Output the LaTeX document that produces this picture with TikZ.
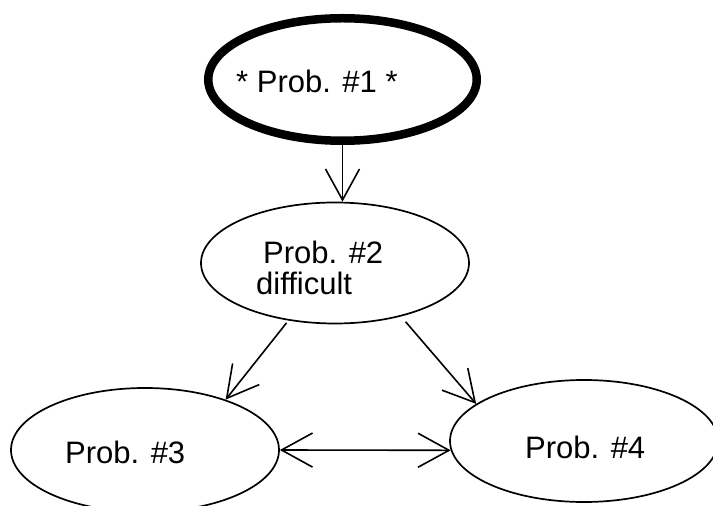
\documentclass[tikz,border=0pt]{standalone}
\usepackage{fontspec}
\setmainfont{Liberation Sans}
\usetikzlibrary{shapes.geometric,arrows.meta}
\begin{document}
\begin{tikzpicture}[x=1pt,y=1pt,
  ell/.style={draw,ellipse,inner sep=0pt,line width=1.7pt},
  bigell/.style={draw,ellipse,inner sep=0pt,line width=8.5pt},
  txt/.style={anchor=base west,inner sep=0pt,font=\fontsize{31}{37}\selectfont},
  arr/.style={line width=1.6pt,-{Straight Barb[length=31pt,width=34pt,line width=1.6pt]}},
  darr/.style={line width=1.6pt,{Straight Barb[length=31pt,width=34pt,line width=1.6pt]}-{Straight Barb[length=31pt,width=34pt,line width=1.6pt]}}]
\useasboundingbox (0,0) rectangle (713,506);
\node[bigell,minimum width=268.5pt,minimum height=122.5pt] (p1) at (342.5,426.5) {};
\node[ell,minimum width=268pt,minimum height=121pt] (p2) at (335,243) {};
\node[ell,minimum width=268pt,minimum height=124pt] (p3) at (145,56) {};
\node[ell,minimum width=268pt,minimum height=122pt] (p4) at (584,65) {};
\node[txt] (t1) at (236,413) {* Prob. \#1 *};
\node[txt] (t2a) at (263,242) {Prob. \#2};
\node[txt] (t2b) at (256,211) {difficult};
\node[txt] (t3) at (65,42) {Prob. \#3};
\node[txt] (t4) at (525,47) {Prob. \#4};
\draw[arr] (p1.south) -- (p1.south |- p2.north);
\draw[arr,shorten <=3pt] (p2.231) -- (p3.32.8);
\draw[arr,shorten <=7pt] (p2.-39.6) -- (p4.161.6);
\draw[darr] (p3.east) -- (p4.184);
\end{tikzpicture}
\end{document}
